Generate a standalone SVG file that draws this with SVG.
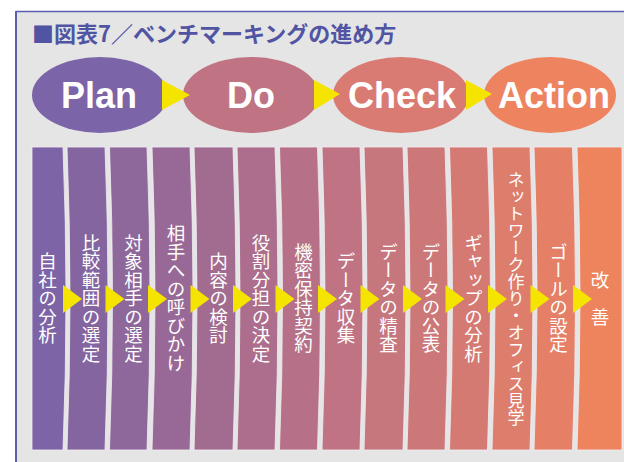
<svg xmlns="http://www.w3.org/2000/svg" width="624" height="462" viewBox="0 0 624 462">
<defs>
<style>
.title{font-family:"Noto Sans CJK JP","Noto Sans CJK SC",sans-serif;font-size:22px;font-weight:bold;fill:#5154a2}
.phase{font-family:"Liberation Sans",Arial,sans-serif;font-size:36px;font-weight:bold;fill:#ffffff;text-anchor:middle}
.step{font-family:"Noto Sans CJK JP","Noto Sans CJK SC",sans-serif;font-size:18.5px;fill:#ffffff;writing-mode:vertical-rl;text-anchor:middle}
.col{stroke:#f3eef3;stroke-width:1;stroke-opacity:0.8}
.tri{fill:#f5e400}
</style>
</defs>
<rect x="0" y="0" width="624" height="462" fill="#ffffff"/>
<rect x="16" y="11" width="608" height="451" fill="#e5e5e5"/>
<line x1="16" y1="11.5" x2="624" y2="11.5" stroke="#5a5fae" stroke-width="1.6"/>
<line x1="16" y1="11" x2="16" y2="462" stroke="#5a5fae" stroke-width="2"/>
<text class="title" x="32" y="42">■図表7／ベンチマーキングの進め方</text>

<g id="phases">
<g id="plan"><ellipse cx="100" cy="95" rx="68" ry="38" fill="#7b64a7"/><text class="phase" x="99" y="108">Plan</text></g>
<g id="do"><ellipse cx="251" cy="95" rx="68" ry="38" fill="#bf7383"/><text class="phase" x="251" y="108">Do</text></g>
<g id="check"><ellipse cx="401" cy="95" rx="68" ry="38" fill="#d97b72"/><text class="phase" x="402" y="108">Check</text></g>
<g id="action"><ellipse cx="550" cy="95" rx="66" ry="38" fill="#ee845f"/><text class="phase" x="554" y="108">Action</text></g>
</g>

<g id="steps">
<g id="s1"><path class="col" fill="#7c64a6" d="M32,147 L32,450 L63,450 Q69,298.5 63,147 Z"/><text class="step" x="47.5" y="298">自社の分析</text></g>
<g id="s2"><path class="col" fill="#8565a0" d="M67,147 Q73,298.5 67,450 L105,450 Q111,298.5 105,147 Z"/><text class="step" x="91" y="298">比較範囲の選定</text></g>
<g id="s3"><path class="col" fill="#8e679b" d="M109.5,147 Q115.5,298.5 109.5,450 L147,450 Q153,298.5 147,147 Z"/><text class="step" x="133.5" y="298">対象相手の選定</text></g>
<g id="s4"><path class="col" fill="#986996" d="M152,147 Q158,298.5 152,450 L190,450 Q196,298.5 190,147 Z"/><text class="step" x="176" y="298">相手への呼びかけ</text></g>
<g id="s5"><path class="col" fill="#a26c91" d="M194,147 Q200,298.5 194,450 L233,450 Q239,298.5 233,147 Z"/><text class="step" x="218.5" y="298">内容の検討</text></g>
<g id="s6"><path class="col" fill="#ac6e8c" d="M237,147 Q243,298.5 237,450 L275,450 Q281,298.5 275,147 Z"/><text class="step" x="261" y="298">役割分担の決定</text></g>
<g id="s7"><path class="col" fill="#b67188" d="M279.5,147 Q285.5,298.5 279.5,450 L317.5,450 Q323.5,298.5 317.5,147 Z"/><text class="step" x="303.5" y="298">機密保持契約</text></g>
<g id="s8"><path class="col" fill="#bf7383" d="M322,147 Q328,298.5 322,450 L360,450 Q366,298.5 360,147 Z"/><text class="step" x="346" y="298">データ収集</text></g>
<g id="s9"><path class="col" fill="#c6767d" d="M364,147 Q370,298.5 364,450 L403,450 Q409,298.5 403,147 Z"/><text class="step" x="388.5" y="298">データの精査</text></g>
<g id="s10"><path class="col" fill="#cd7878" d="M407,147 Q413,298.5 407,450 L445,450 Q451,298.5 445,147 Z"/><text class="step" x="431" y="298">データの公表</text></g>
<g id="s11"><path class="col" fill="#d47a73" d="M449.5,147 Q455.5,298.5 449.5,450 L487.5,450 Q493.5,298.5 487.5,147 Z"/><text class="step" x="473.5" y="298">ギャップの分析</text></g>
<g id="s12"><path class="col" fill="#dd7d6c" d="M492,147 Q498,298.5 492,450 L530,450 Q536,298.5 530,147 Z"/><text class="step" x="516" y="299" style="font-size:17px">ネットワーク作り・オフィス見学</text></g>
<g id="s13"><path class="col" fill="#e58066" d="M534,147 Q540,298.5 534,450 L572.5,450 Q578.5,298.5 572.5,147 Z"/><text class="step" x="558.5" y="298">ゴールの設定</text></g>
<g id="s14"><path class="col" fill="#ee845e" d="M577,147 Q583,298.5 577,450 L622,450 L622,147 Z"/><text class="step" x="600" y="298">改　善</text></g>
</g>

<g id="connectors">
<polygon class="tri" points="162,80 162,110 190,95"/>
<polygon class="tri" points="314,80 314,110 340,94"/>
<polygon class="tri" points="466,80 466,110 492,94"/>
<polygon class="tri" points="63,285 63,313 82,299"/>
<polygon class="tri" points="105.5,285 105.5,313 124.5,299"/>
<polygon class="tri" points="148,285 148,313 167,299"/>
<polygon class="tri" points="190.5,285 190.5,313 209.5,299"/>
<polygon class="tri" points="233,285 233,313 252,299"/>
<polygon class="tri" points="275.5,285 275.5,313 294.5,299"/>
<polygon class="tri" points="318,285 318,313 337,299"/>
<polygon class="tri" points="360.5,285 360.5,313 379.5,299"/>
<polygon class="tri" points="403,285 403,313 422,299"/>
<polygon class="tri" points="445.5,285 445.5,313 464.5,299"/>
<polygon class="tri" points="488,285 488,313 507,299"/>
<polygon class="tri" points="530.5,285 530.5,313 549.5,299"/>
<polygon class="tri" points="573,285 573,313 592,299"/>
</g>
</svg>
